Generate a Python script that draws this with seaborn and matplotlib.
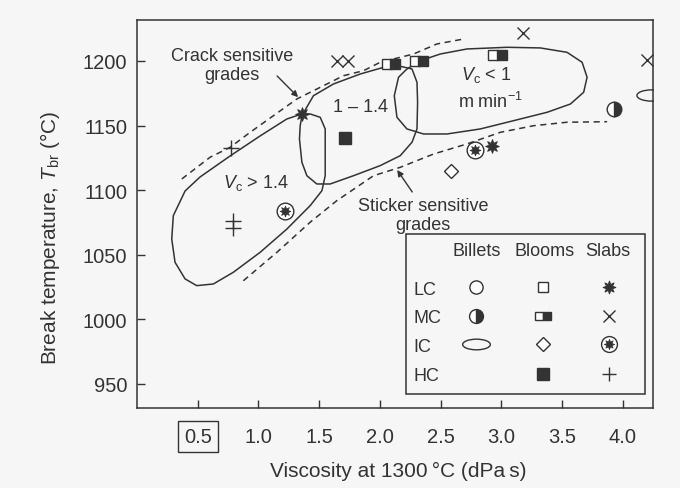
import matplotlib
matplotlib.use("Agg")
from matplotlib import pyplot as plt
from matplotlib.path import Path
from matplotlib.transforms import Affine2D, offset_copy
import seaborn

# viscosity (dPa s) / break temperature (C)
slab_mc_x = [1.65, 1.74, 3.18, 4.20]
slab_mc_t = [1200, 1200, 1222, 1201]
bloom_mc_x = [2.09, 2.32, 2.97]
bloom_mc_t = [1198, 1200, 1205]
billet_mc_x = [3.93]
billet_mc_t = [1163]
billet_ic_x = [4.23]
billet_ic_t = [1174]
slab_lc_x = [1.36, 2.92]
slab_lc_t = [1159, 1134]
bloom_hc_x = [1.71]
bloom_hc_t = [1140]
slab_hc_x = [0.77, 0.79, 0.79]
slab_hc_t = [1133, 1076, 1071]
slab_ic_x = [1.22, 2.78]
slab_ic_t = [1084, 1131]
bloom_ic_x = [2.59]
bloom_ic_t = [1115]

# casting speed regions (closed outlines)
fast_x = [1.358, 1.234, 1.014, 0.767, 0.519, 0.396, 0.299, 0.286, 0.313, 0.396, 0.492,
          0.629, 0.794, 1.014, 1.234, 1.426, 1.523, 1.550, 1.550, 1.550, 1.509, 1.426, 1.358]
fast_t = [1159.0, 1155.1, 1142.0, 1126.5, 1110.2, 1099.4, 1080.3, 1062.2, 1044.2, 1031.3, 1026.1,
          1027.4, 1036.5, 1051.9, 1069.9, 1088.0, 1099.6, 1111.2, 1131.9, 1147.4, 1156.4, 1159.0, 1159.0]
mid_x = [1.358, 1.453, 1.618, 1.838, 2.031, 2.168, 2.265, 2.306, 2.311, 2.306, 2.265, 2.168,
         2.003, 1.783, 1.591, 1.481, 1.399, 1.358, 1.338, 1.344, 1.358]
mid_t = [1157.7, 1173.1, 1182.2, 1189.9, 1195.1, 1195.9, 1193.8, 1183.5, 1168.0, 1147.4, 1137.1, 1126.7,
         1119.0, 1111.2, 1104.8, 1104.8, 1111.2, 1121.6, 1139.6, 1149.9, 1157.7]
slow_x = [2.333, 2.498, 2.718, 3.048, 3.322, 3.542, 3.666, 3.707, 3.679, 3.570, 3.378, 3.102,
          2.828, 2.553, 2.360, 2.223, 2.141, 2.119, 2.154, 2.223, 2.333]
slow_t = [1200.2, 1205.4, 1209.3, 1210.6, 1210.1, 1206.7, 1199.0, 1187.4, 1175.8, 1166.7, 1160.3, 1153.8,
          1147.4, 1143.5, 1143.5, 1147.4, 1156.4, 1173.1, 1187.4, 1193.8, 1200.2]

# dashed boundaries
crack_x = [0.369, 0.602, 0.767, 0.932, 1.124, 1.317, 1.481, 1.701, 1.866, 2.003, 2.278, 2.471, 2.690]
crack_t = [1108.7, 1125.5, 1133.2, 1144.8, 1157.7, 1170.6, 1178.3, 1188.6, 1192.5, 1199.0, 1205.4, 1213.2, 1217.0]
stick_x = [0.876, 1.152, 1.426, 1.646, 1.948, 2.168, 2.443, 2.718, 2.993, 3.267, 3.542, 3.872]
stick_t = [1029.9, 1051.9, 1075.2, 1091.9, 1111.2, 1117.7, 1128.0, 1135.8, 1144.8, 1149.9, 1152.6, 1153.0]

x_ticks = [0.5, 1.0, 1.5, 2.0, 2.5, 3.0, 3.5, 4.0]
y_ticks = [950, 1000, 1050, 1100, 1150, 1200]
rows = ['LC', 'MC', 'IC', 'HC']
cols = ['Billets', 'Blooms', 'Slabs']

ink = '#333333'
paper = '#f6f6f6'

seaborn.set_theme(style='ticks')
plt.rcParams['font.family'] = ['Liberation Sans', 'DejaVu Sans']
plt.rcParams['mathtext.fontset'] = 'custom'
plt.rcParams['mathtext.rm'] = 'Liberation Sans'
plt.rcParams['mathtext.it'] = 'Liberation Sans:italic'
plt.rcParams['text.color'] = ink

fig = plt.figure(figsize=(6.8, 4.89), dpi=100, facecolor=paper)
ax = fig.add_axes([0.2015, 0.1636, 0.7588, 0.7934], facecolor=paper)

ellipse = Path.unit_circle().transformed(Affine2D().scale(2.6, 1.0))

def draw_marker(kind, x, y, trans, big=1.0):
    kw = dict(linestyle='none', color=ink, transform=trans)
    if kind == 'circle':
        ax.plot(x, y, marker='o', ms=10*big, mfc='white', mec=ink, mew=1, **kw)
    elif kind == 'halfcircle':
        ax.plot(x, y, marker='o', ms=10.5*big, fillstyle='right', mfc=ink, mfcalt='white', mec=ink, mew=1, **kw)
    elif kind == 'ellipse':
        ax.plot(x, y, marker=ellipse, ms=21*big, mfc='none', mec=ink, mew=1, **kw)
    elif kind == 'square':
        ax.plot(x, y, marker='s', ms=7*big, mfc='white', mec=ink, mew=1, **kw)
    elif kind == 'halfsquare':
        left = offset_copy(trans, fig=fig, x=-3.0*big, y=0, units='points')
        right = offset_copy(trans, fig=fig, x=3.0*big, y=0, units='points')
        kw.pop('transform')
        ax.plot(x, y, marker='s', ms=6.5*big, mfc='white', mec=ink, mew=1, transform=left, **kw)
        ax.plot(x, y, marker='s', ms=6.5*big, mfc=ink, mec=ink, mew=1, transform=right, **kw)
    elif kind == 'diamond':
        ax.plot(x, y, marker='D', ms=7*big, mfc='white', mec=ink, mew=1, **kw)
    elif kind == 'fsquare':
        ax.plot(x, y, marker='s', ms=8.5*big, mfc=ink, mec=ink, mew=1, **kw)
    elif kind == 'star':
        ax.plot(x, y, marker=(8, 1, 0), ms=10*big, mfc=ink, mec=ink, mew=0.6, **kw)
    elif kind == 'cross':
        ax.plot(x, y, marker='x', ms=8.5*big, mec=ink, mew=1, **kw)
    elif kind == 'cstar':
        ax.plot(x, y, marker='o', ms=12*big, mfc='white', mec=ink, mew=1, **kw)
        ax.plot(x, y, marker=(8, 1, 0), ms=8*big, mfc=ink, mec=ink, mew=0.5, **kw)
    elif kind == 'plus':
        ax.plot(x, y, marker='+', ms=11*big, mec=ink, mew=1, **kw)

# outlines
for xs, ts in [(fast_x, fast_t), (mid_x, mid_t), (slow_x, slow_t)]:
    seaborn.lineplot(x=xs, y=ts, sort=False, estimator=None, color=ink, linewidth=1.1, ax=ax)
for xs, ts in [(crack_x, crack_t), (stick_x, stick_t)]:
    seaborn.lineplot(x=xs, y=ts, sort=False, estimator=None, color=ink, linewidth=1.1,
                     linestyle=(0, (4, 3)), ax=ax)

# data points
draw_marker('cross', slab_mc_x, slab_mc_t, ax.transData)
draw_marker('halfsquare', bloom_mc_x, bloom_mc_t, ax.transData)
draw_marker('halfcircle', billet_mc_x, billet_mc_t, ax.transData)
draw_marker('ellipse', billet_ic_x, billet_ic_t, ax.transData)
draw_marker('star', slab_lc_x, slab_lc_t, ax.transData)
draw_marker('fsquare', bloom_hc_x, bloom_hc_t, ax.transData)
draw_marker('plus', slab_hc_x, slab_hc_t, ax.transData)
draw_marker('cstar', slab_ic_x, slab_ic_t, ax.transData)
draw_marker('diamond', bloom_ic_x, bloom_ic_t, ax.transData)

# labels inside plot
fs = 13
ax.text(0.783, 1197, 'Crack sensitive\ngrades', ha='center', va='center', fontsize=fs, linespacing=1.2)
ax.annotate('', xy=(1.327, 1172), xytext=(1.154, 1188.4),
            arrowprops=dict(arrowstyle='-|>', color=ink, lw=1, mutation_scale=9, shrinkA=0, shrinkB=0))
ax.text(1.838, 1164.4, '1 \u2013 1.4', ha='center', va='center', fontsize=fs)
ax.text(2.877, 1190, r'$V_{\rm c}$ < 1', ha='center', va='center', fontsize=fs)
ax.text(2.910, 1169, r'm min$^{-1}$', ha='center', va='center', fontsize=fs)
ax.text(0.981, 1106.3, r'$V_{\rm c}$ > 1.4', ha='center', va='center', fontsize=fs)
ax.text(2.358, 1080.8, 'Sticker sensitive\ngrades', ha='center', va='center', fontsize=fs, linespacing=1.2)
ax.annotate('', xy=(2.143, 1115.6), xytext=(2.267, 1098.6),
            arrowprops=dict(arrowstyle='-|>', color=ink, lw=1, mutation_scale=9, shrinkA=0, shrinkB=0))

# legend table
box = plt.Rectangle((0.521, 0.036), 0.463, 0.412, transform=ax.transAxes,
                    fc=paper, ec=ink, lw=1.1, zorder=3)
ax.add_patch(box)
col_x = [0.657, 0.787, 0.915]
row_y = [0.311, 0.238, 0.164, 0.088]
for cx, name in zip([0.659, 0.789, 0.913], cols):
    ax.text(cx, 0.405, name, transform=ax.transAxes, ha='center', va='center', fontsize=fs, zorder=4)
for ry, name in zip(row_y, rows):
    ax.text(0.535, ry - 0.005, name, transform=ax.transAxes, ha='left', va='center', fontsize=fs, zorder=4)
legend_kinds = [['circle', 'square', 'star'],
                ['halfcircle', 'halfsquare', 'cross'],
                ['ellipse', 'diamond', 'cstar'],
                [None, 'fsquare', 'plus']]
for ry, kinds in zip(row_y, legend_kinds):
    for cx, kind in zip(col_x, kinds):
        if kind:
            draw_marker(kind, [cx], [ry], ax.transAxes, big=0.95)
for line in ax.lines[-20:]:
    line.set_zorder(5)

ax.set_xlim(0, 4.25)
ax.set_ylim(931.4, 1231.7)
ax.set_xticks(x_ticks)
ax.set_xticklabels([f'{v:.1f}' for v in x_ticks])
ax.set_yticks(y_ticks)
ax.tick_params(direction='in', length=6, width=1, color=ink, labelcolor=ink, labelsize=14.5)
ax.tick_params(axis='x', pad=14)
ax.tick_params(axis='y', pad=7)
for sp in ax.spines.values():
    sp.set_color(ink)
    sp.set_linewidth(1.1)
ax.get_xticklabels()[0].set_bbox(dict(boxstyle='square,pad=0.3', fc='none', ec=ink, lw=1))
ax.set_xlabel('')
ax.set_ylabel('')

fig.text(398/680, 1 - 471/489, 'Viscosity at 1300\u2009\u00b0C (dPa\u2009s)', ha='center', va='center',
         fontsize=15, color=ink)
fig.text(50/680, 1 - 238/489, 'Break temperature, $T_{\\rm br}$ (\u00b0C)', ha='center', va='center',
         rotation=90, fontsize=15, color=ink)

fig.savefig('out.png', dpi=100, facecolor=paper)
